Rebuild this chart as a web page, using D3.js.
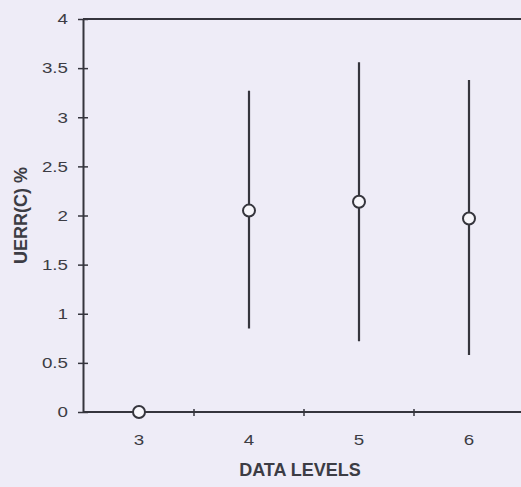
<!DOCTYPE html>
<html>
<head>
<meta charset="utf-8">
<script src="https://cdn.jsdelivr.net/npm/d3@7"></script>
<style>
  body { margin: 0; background: #eeecf7; }
  svg { display: block; }
</style>
</head>
<body>
<svg id="chart" width="521" height="487"></svg>
<script>
const levels = ["3", "4", "5", "6"]
const means = [0, 2.05, 2.14, 1.97]
const lows = [0, 0.85, 0.72, 0.58]
const highs = [0, 3.27, 3.56, 3.38]
const yTicks = [0, 0.5, 1, 1.5, 2, 2.5, 3, 3.5, 4]

const ink = "#35353d";
const textInk = "#3c3c44";
const font = "Liberation Sans, Arial, sans-serif";
const stretch = 1.25; // tick digits in the scan are wide
const svg = d3.select("#chart");
const margin = { top: 19, left: 83 };

const x = d3.scaleBand()
  .domain(levels)
  .range([margin.left + 1, margin.left + 1 + 440]);

const y = d3.scaleLinear()
  .domain([0, 4])
  .range([412, margin.top]);

const data = levels.map((l, i) => ({ level: l, mean: means[i], lo: lows[i], hi: highs[i] }));
const cx = d => x(d) + x.bandwidth() / 2;

// frame
svg.append("line")
  .attr("x1", margin.left).attr("x2", 530)
  .attr("y1", y(4)).attr("y2", y(4))
  .attr("stroke", ink).attr("stroke-width", 2);

// Y axis
const yAxis = svg.append("g")
  .attr("transform", `translate(${margin.left},0)`)
  .call(d3.axisLeft(y).tickValues(yTicks).tickSize(5).tickSizeOuter(0).tickFormat(d => d));
yAxis.select(".domain").attr("stroke", ink).attr("stroke-width", 2);
yAxis.selectAll(".tick line").attr("stroke", ink).attr("stroke-width", 1.5).attr("x2", 5).attr("x1", -5);
yAxis.selectAll(".tick text")
  .attr("x", -15 / stretch)
  .attr("transform", `scale(${stretch},1)`)
  .attr("fill", textInk)
  .style("font-family", font)
  .style("font-size", "15px");

// X axis
svg.append("line")
  .attr("x1", margin.left).attr("x2", 530)
  .attr("y1", y(0)).attr("y2", y(0))
  .attr("stroke", ink).attr("stroke-width", 2);

const xAxis = svg.append("g")
  .attr("transform", `translate(0,${y(0)})`);
xAxis.selectAll(".sep")
  .data(levels.slice(1))
  .enter().append("line")
  .attr("class", "sep")
  .attr("x1", d => x(d)).attr("x2", d => x(d))
  .attr("y1", -3).attr("y2", 4)
  .attr("stroke", ink).attr("stroke-width", 1.5);
xAxis.selectAll(".lab")
  .data(levels)
  .enter().append("text")
  .attr("class", "lab")
  .attr("transform", d => `translate(${cx(d)},33) scale(${stretch},1)`)
  .attr("text-anchor", "middle")
  .attr("fill", textInk)
  .style("font-family", font)
  .style("font-size", "15px")
  .text(d => d);

// error bars
const g = svg.append("g");
g.selectAll(".err")
  .data(data.filter(d => d.hi > d.lo))
  .enter().append("line")
  .attr("class", "err")
  .attr("x1", d => cx(d.level))
  .attr("x2", d => cx(d.level))
  .attr("y1", d => y(d.lo))
  .attr("y2", d => y(d.hi))
  .attr("stroke", ink).attr("stroke-width", 2.2);

g.selectAll(".pt")
  .data(data)
  .enter().append("circle")
  .attr("class", "pt")
  .attr("cx", d => cx(d.level))
  .attr("cy", d => y(d.mean))
  .attr("r", 6)
  .attr("fill", "#f7f6fb")
  .attr("stroke", ink).attr("stroke-width", 2);

// axis titles
svg.append("text")
  .attr("transform", `translate(27,${(y(0) + y(4)) / 2}) rotate(-90)`)
  .attr("text-anchor", "middle")
  .attr("fill", textInk)
  .style("font-family", font)
  .style("font-weight", "bold")
  .style("font-size", "18px")
  .text("UERR(C) %");

svg.append("text")
  .attr("x", 300)
  .attr("y", 476)
  .attr("text-anchor", "middle")
  .attr("fill", textInk)
  .style("font-family", font)
  .style("font-weight", "bold")
  .style("font-size", "18px")
  .text("DATA LEVELS");
</script>
</body>
</html>
